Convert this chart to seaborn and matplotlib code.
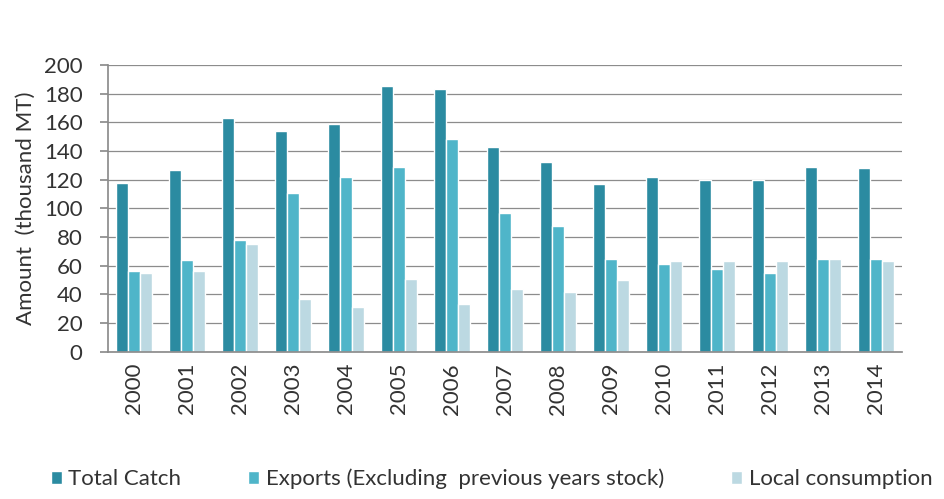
import pandas as pd
import matplotlib.pyplot as plt
import seaborn as sns

years = [str(y) for y in range(2000, 2015)]
total_catch = [118, 127, 163, 154, 159, 185, 183, 143, 132, 117, 122, 120, 120, 129, 128]
exports = [56, 64, 78, 111, 122, 129, 148, 97, 88, 65, 61, 58, 55, 65, 65]
local = [55, 56, 75, 37, 31, 51, 33, 44, 42, 50, 63, 63, 63, 65, 63]

series = ['Total Catch', 'Exports (Excluding  previous years stock)', 'Local consumption']
colors = ['#2b8ba1', '#4fb5c9', '#bcd9e2']

df = pd.DataFrame({'year': years * 3,
                   'amount': total_catch + exports + local,
                   'series': [s for s in series for _ in years]})

sns.set_theme(style='white')
plt.rcParams['font.family'] = ['Lato', 'DejaVu Sans']

fig = plt.figure(figsize=(9.45, 4.99), dpi=100)
ax = fig.add_axes([0.114, 0.295, 0.841, 0.575])

sns.barplot(data=df, x='year', y='amount', hue='series', palette=colors,
            width=0.68, saturation=1, ax=ax)

ax.set_ylim(0, 200)
ax.set_yticks(range(0, 201, 20))
ax.yaxis.grid(True, color='#8c8c8c', linewidth=0.9)
ax.set_axisbelow(True)
for s in ['top', 'right']:
    ax.spines[s].set_visible(False)
ax.spines['left'].set_color('#8c8c8c')
ax.spines['bottom'].set_color('#8c8c8c')
ax.tick_params(axis='y', labelsize=16, colors='#333333', length=6, color='#8c8c8c', left=True, pad=12)
ax.tick_params(axis='x', labelsize=16, colors='#333333', rotation=90, length=0, pad=8)
ax.set_xlabel('')
ax.set_ylabel('Amount  (thousand MT)', fontsize=16, color='#333333', labelpad=6)
ax.set_xlim(-0.5, 14.5)

handles, labels = ax.get_legend_handles_labels()
ax.legend_.remove()
fig.legend(handles, labels, loc='center', bbox_to_anchor=(0.52, 0.04), ncol=3,
           frameon=False, fontsize=16, handlelength=0.5, handleheight=0.5,
           handletextpad=0.3, columnspacing=3.0, labelcolor='#333333')

plt.savefig('out.png', dpi=100)
